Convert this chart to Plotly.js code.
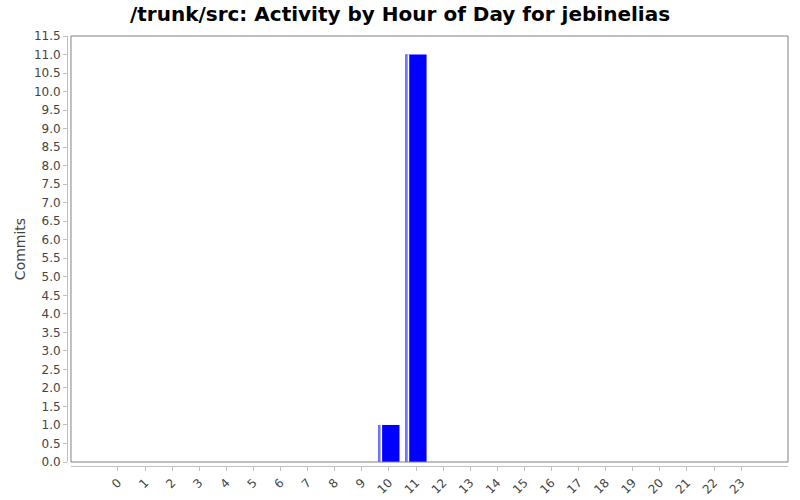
<!DOCTYPE html>
<html>
<head>
<meta charset="utf-8">
<script src="https://cdn.plot.ly/plotly-3.0.1.min.js"></script>
<style>
  html, body { margin: 0; padding: 0; background: #fff; }
  #chart { width: 800px; height: 500px; }
</style>
</head>
<body>
<div id="chart"></div>
<script>
// hours of the day and commits per hour
const hours = ['0', '1', '2', '3', '4', '5', '6', '7', '8', '9', '10', '11',
    '12', '13', '14', '15', '16', '17', '18', '19', '20', '21', '22', '23'];
const commits = [0, 0, 0, 0, 0, 0, 0, 0, 0, 0, 1, 11,
    0, 0, 0, 0, 0, 0, 0, 0, 0, 0, 0, 0];

window.onload = main;

function main() {
    const xs = hours.map(Number);
    const font = 'DejaVu Sans, sans-serif';

    const bars = {
        x: xs,
        y: commits,
        type: 'bar',
        width: 0.78,
        marker: { color: '#0000ff', line: { width: 0 } },
        hoverinfo: 'x+y'
    };
    // thin highlight strip on the left edge of each bar
    const strip = {
        x: xs,
        y: commits,
        type: 'bar',
        width: 0.07,
        offset: -0.39,
        marker: { color: '#7878ff', line: { width: 0 } },
        hoverinfo: 'skip'
    };
    const gap = {
        x: xs,
        y: commits,
        type: 'bar',
        width: 0.07,
        offset: -0.32,
        marker: { color: '#ffffff', line: { width: 0 } },
        hoverinfo: 'skip'
    };

    const layout = {
        width: 800,
        height: 500,
        margin: { l: 67, r: 12, t: 36, b: 34 },
        paper_bgcolor: '#ffffff',
        plot_bgcolor: '#ffffff',
        showlegend: false,
        barmode: 'overlay',
        title: {
            text: '/trunk/src: Activity by Hour of Day for jebinelias',
            font: { family: font, size: 20, color: '#000000', weight: 'bold' },
            x: 0.5,
            xanchor: 'center',
            y: 0.972,
            yanchor: 'middle'
        },
        xaxis: {
            domain: [0.0055, 1],
            anchor: 'free',
            position: 0,
            range: [-1.735, 24.73],
            tickmode: 'array',
            tickvals: xs,
            ticktext: hours,
            tickangle: -45,
            ticks: 'outside',
            ticklen: 4,
            tickcolor: '#c0c0c0',
            showline: true,
            linecolor: '#c0c0c0',
            linewidth: 1,
            showgrid: false,
            zeroline: false,
            tickfont: { family: font, size: 12, color: '#444444' }
        },
        yaxis: {
            domain: [0.0093, 1],
            anchor: 'free',
            position: 0,
            range: [0, 11.5],
            dtick: 0.5,
            tick0: 0,
            tickformat: '.1f',
            ticks: 'outside',
            ticklen: 4,
            tickcolor: '#c0c0c0',
            showline: true,
            linecolor: '#c0c0c0',
            linewidth: 1,
            showgrid: false,
            zeroline: false,
            tickfont: { family: font, size: 12, color: '#444444' },
            title: {
                text: 'Commits',
                font: { family: font, size: 14, color: '#444444' },
                standoff: 3
            }
        },
        shapes: [{
            type: 'rect',
            xref: 'x domain', yref: 'y domain',
            x0: 0, x1: 1, y0: 0, y1: 1,
            line: { color: '#808080', width: 1 },
            layer: 'above'
        }]
    };

    Plotly.newPlot('chart', [bars, gap, strip], layout, { displayModeBar: false, staticPlot: true });
}
</script>
</body>
</html>
